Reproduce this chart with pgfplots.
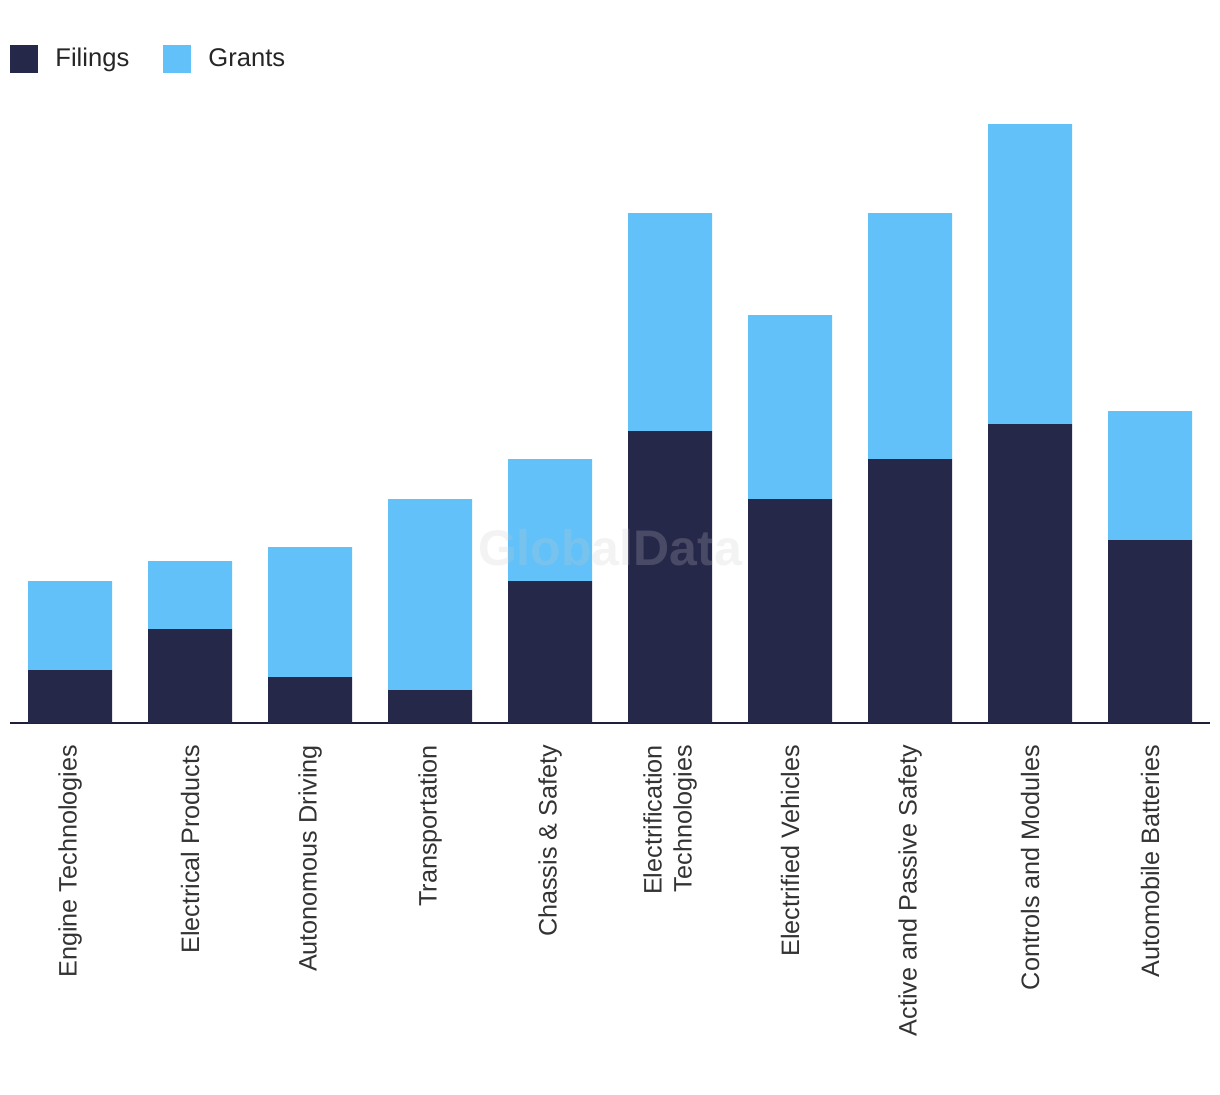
\documentclass[border=0pt]{standalone}
\usepackage{pgfplots}
\pgfplotsset{compat=1.18}
\usepackage{fontspec}
\setmainfont{Liberation Sans}
\definecolor{navy}{RGB}{38,40,74}
\definecolor{sky}{RGB}{98,193,249}
\definecolor{lbl}{RGB}{51,51,51}
\begin{document}
\begin{tikzpicture}
\path[use as bounding box] (-5pt,-185.5pt) rectangle (605pt,361.5pt);
\begin{axis}[
  scale only axis,
  width=600pt, height=299.5pt,
  at={(0,0)}, anchor=south west,
  xmin=-0.5, xmax=9.5, ymin=0, ymax=599,
  ybar stacked, bar width=42pt,
  axis x line*=bottom, hide y axis,
  axis line style={navy!80!black, line width=1pt},
  xtick=data,
  major tick length=0pt,
  xticklabels={Engine Technologies, Electrical Products, Autonomous Driving, Transportation, Chassis \& Safety, {Electrification\\Technologies}, Electrified Vehicles, Active and Passive Safety, Controls and Modules, Automobile Batteries},
  xticklabel style={rotate=90, anchor=east, align=right, inner sep=0pt, outer sep=0pt, font=\fontsize{12.6}{15}\selectfont, text=lbl},
  xticklabel shift=11pt,
  legend columns=2,
  legend style={draw=none, fill=none, at={(0,1.1085)}, anchor=west, inner sep=0pt,
    nodes={inner sep=0pt, text=black!85, font=\fontsize{12.8}{15}\selectfont},
    /tikz/every odd column/.append style={column sep=8.5pt},
    /tikz/every even column/.append style={column sep=17pt}},
  legend image code/.code={\fill (0pt,-7pt) rectangle (14pt,7pt);},
]
\addplot[fill=navy, draw=none] coordinates {(0,53) (1,94) (2,46) (3,33) (4,142) (5,292) (6,224) (7,264) (8,299) (9,183)};
\addplot[fill=sky, draw=none] coordinates {(0,89) (1,68) (2,130) (3,191) (4,122) (5,218) (6,184) (7,246) (8,300) (9,129)};
\legend{Filings, Grants}
\coordinate (wm) at (axis cs:4.5,175);
\end{axis}
\node[text=black!22, opacity=0.22, font=\bfseries\fontsize{25}{30}\selectfont] at (wm) {GlobalData};
\end{tikzpicture}
\end{document}
